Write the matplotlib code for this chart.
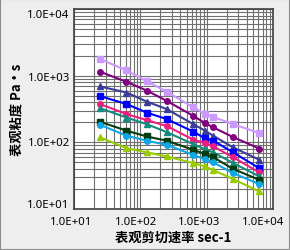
import numpy as np
import matplotlib.pyplot as plt
import matplotlib.transforms as mtransforms
from matplotlib.ticker import FuncFormatter, LogLocator, NullFormatter
from matplotlib.patches import Rectangle

plt.rcParams['font.family'] = ['Noto Sans CJK SC', 'DejaVu Sans']

# shear rate (sec-1)
rate = [24.7, 62, 125, 250, 630, 945, 1260, 2510, 6220]

# apparent viscosity (Pa.s), top to bottom
lavender = [1780, 1200, 830, 575, 335, 270, 240, 188, 138]
purple = [1150, 810, 600, 420, 250, 195, 168, 120, 81]
navy = [690, 560, 410, 316, 188, 150, 126, 84, 55]
blue = [495, 376, 280, 224, 145, 115, 106, 71, 41]
pink = [376, 266, 216, 176, 110, 98, 87, 60, 35.5]
teal = [327, 236, 188, 143, 94, 79, 71, 49, 31]
dkgreen = [204, 150, 123, 106, 77.5, 67, 60, 40, 27.5]
ltblue = [184, 126, 106, 92, 65, 56, 50, 34.7, 23.7]
yellowgreen = [119, 82, 71, 61.7, 49, 43.7, 38.5, 28.2, 18.4]

major = [10, 100, 1000, 10000]

series = [
    (lavender, '#cc99ff', 's'),
    (purple, '#800080', 'o'),
    (navy, '#3b3b9a', '^'),
    (blue, '#0000ff', 's'),
    (pink, '#ec1f80', 'o'),
    (teal, '#138a7e', '^'),
    (dkgreen, '#053d10', 's'),
    (ltblue, '#0fa8e6', 'o'),
    (yellowgreen, '#99cc00', '^'),
]

fig = plt.figure(figsize=(2.9, 2.51), dpi=100, facecolor='#eeeeee')
fig.patches.append(Rectangle((0, 0), 1, 1, transform=fig.transFigure,
                             fill=False, edgecolor='#8c8c8c', lw=1.5))
ax = fig.add_axes([0.255, 0.163, 0.686, 0.797])

for y, c, m in series:
    ax.plot(rate, y, color=c, marker=m, markersize=4, lw=1.5)

ax.set_xscale('log')
ax.set_yscale('log')
ax.set_xlim(10, 1e4)
ax.set_ylim(10, 1e4)
ax.set_xticks(major)
ax.set_yticks(major)
ax.xaxis.set_minor_locator(LogLocator(base=10, subs=np.arange(2, 10), numticks=10))
ax.yaxis.set_minor_locator(LogLocator(base=10, subs=np.arange(2, 10), numticks=10))
fmt = FuncFormatter(lambda v, p: f'{v:.1E}')
ax.xaxis.set_major_formatter(fmt)
ax.yaxis.set_major_formatter(fmt)
ax.xaxis.set_minor_formatter(NullFormatter())
ax.yaxis.set_minor_formatter(NullFormatter())
ax.grid(True, which='both', color='#707070', lw=0.8)
ax.set_axisbelow(True)
ax.tick_params(which='both', length=0, labelsize=8.2, labelfontfamily='Noto Sans')
ax.tick_params(axis='x', pad=5)
ax.tick_params(axis='y', pad=3)
for s in ax.spines.values():
    s.set_color('#404040')
    s.set_linewidth(1.2)

# nudge tick labels like the original (pixels)
xshift = [-3, -4.5, -7.5, -10]
yshift = [6, 1, 0, -4]
for t, dx in zip(ax.xaxis.get_major_ticks(), xshift):
    t.label1.set_transform(t.label1.get_transform() +
                           mtransforms.ScaledTranslation(dx / 100, 0, fig.dpi_scale_trans))
for t, dy in zip(ax.yaxis.get_major_ticks(), yshift):
    t.label1.set_transform(t.label1.get_transform() +
                           mtransforms.ScaledTranslation(0, dy / 100, fig.dpi_scale_trans))

ax.set_xlabel('表观剪切速率 sec-1', fontsize=9.5, fontweight='bold', labelpad=2)
ax.set_ylabel('表观粘度 Pa·s', fontsize=9.5, fontweight='bold', labelpad=3)

fig.savefig('out.png', dpi=100, facecolor=fig.get_facecolor())
